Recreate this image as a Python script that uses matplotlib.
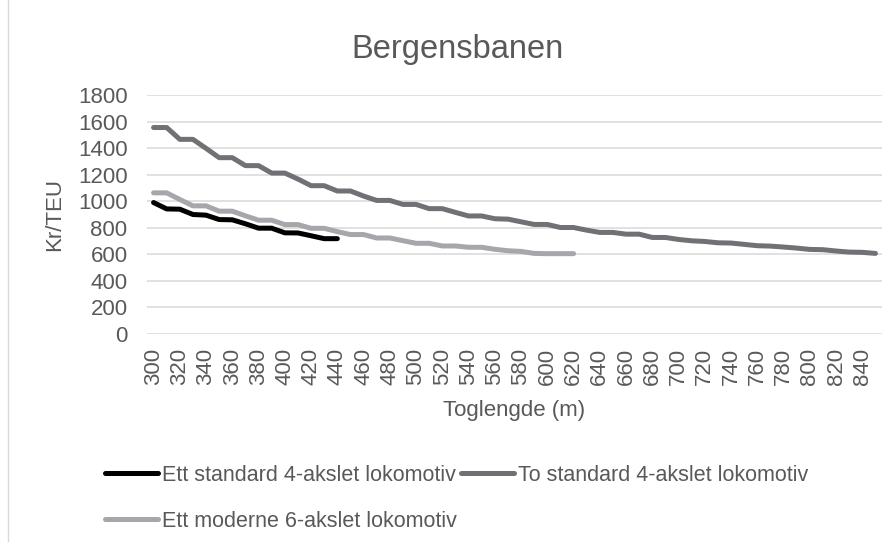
import matplotlib
matplotlib.use("Agg")
import matplotlib.pyplot as plt
from matplotlib import font_manager
from matplotlib.lines import Line2D

# ---- data ----
lengths = list(range(300, 860, 10))                 # Toglengde (m), one category per 10 m

ett_standard = [990, 942, 940, 900, 895, 862, 860, 830, 797, 797,
                762, 761, 740, 718, 718]            # 300 .. 440
to_standard = [1555, 1555, 1466, 1466, 1398, 1328, 1328, 1268, 1268, 1212,
               1212, 1167, 1117, 1117, 1077, 1077, 1039, 1006, 1006, 976,
               976, 944, 944, 916, 889, 889, 868, 865, 845, 825,
               825, 802, 802, 782, 765, 765, 752, 752, 727, 727,
               712, 702, 697, 687, 685, 675, 665, 662, 655, 647,
               637, 635, 625, 617, 615, 607]        # 300 .. 850
ett_moderne = [1063, 1063, 1013, 965, 965, 925, 925, 890, 857, 857,
               824, 824, 796, 796, 771, 749, 749, 723, 723, 703,
               683, 683, 663, 663, 653, 653, 638, 627, 622, 607,
               605, 605, 605]                       # 300 .. 620

labels = ["Ett standard 4-akslet lokomotiv",
          "To standard 4-akslet lokomotiv",
          "Ett moderne 6-akslet lokomotiv"]
colors = ["#000000", "#6f7175", "#a5a7aa"]
yticks = list(range(0, 2000, 200))


def have_font(name):
    try:
        font_manager.findfont(name, fallback_to_default=False)
        return True
    except ValueError:
        return False


base = "Liberation Sans" if have_font("Liberation Sans") else "DejaVu Sans"
plt.rcParams["font.family"] = [base, "DejaVu Sans"]
txt = "#595959"

fig = plt.figure(figsize=(8.95, 5.42), dpi=100)
ax = fig.add_axes([147 / 895, 1 - 334 / 542, 735 / 895, 239 / 542])

series = [ett_standard, to_standard, ett_moderne]
for vals, lab, col in zip(series, labels, colors):
    x = list(range(len(vals)))
    ax.plot(x, vals, color=col, lw=3.6, solid_capstyle="round",
            solid_joinstyle="round", label=lab, zorder=3)

ax.set_xlim(-0.5, len(lengths) - 0.5)
ax.set_ylim(0, 1800)
ax.set_yticks(yticks)
ax.set_xticks(range(0, len(lengths), 2))
ax.set_xticklabels([str(v) for v in lengths[::2]], rotation=90)
ax.grid(axis="y", color="#d9d9d9", lw=1.1, zorder=0)
for s in ax.spines.values():
    s.set_visible(False)
ax.tick_params(axis="both", length=0, labelsize=16, colors=txt)
ax.tick_params(axis="y", pad=14)
ax.tick_params(axis="x", pad=10)

ax.set_xlabel("Toglengde (m)", fontsize=16, color=txt, labelpad=11)
ax.set_ylabel("Kr/TEU", fontsize=16, color=txt, labelpad=9)
fig.text(458 / 895, 1 - 58 / 542, "Bergensbanen", fontsize=23.5, color=txt,
         ha="center", va="baseline")

# legend: row 1 = Ett standard, To standard; row 2 = Ett moderne
h, l = ax.get_legend_handles_labels()
order = [0, 2, 1]
fig.legend([h[i] for i in order], [l[i] for i in order], ncol=2,
           loc="upper left", bbox_to_anchor=(105 / 895, 1 - 465 / 542),
           frameon=False, fontsize=15.5, labelcolor=txt,
           handlelength=2.45, handletextpad=0.2, columnspacing=0.2,
           labelspacing=1.15, borderpad=0, borderaxespad=0)

# thin chart-area border at the left edge
fig.add_artist(Line2D([8 / 895, 8 / 895], [0, 1], color="#d9d9d9", lw=1))

fig.savefig("out.png", dpi=100)
